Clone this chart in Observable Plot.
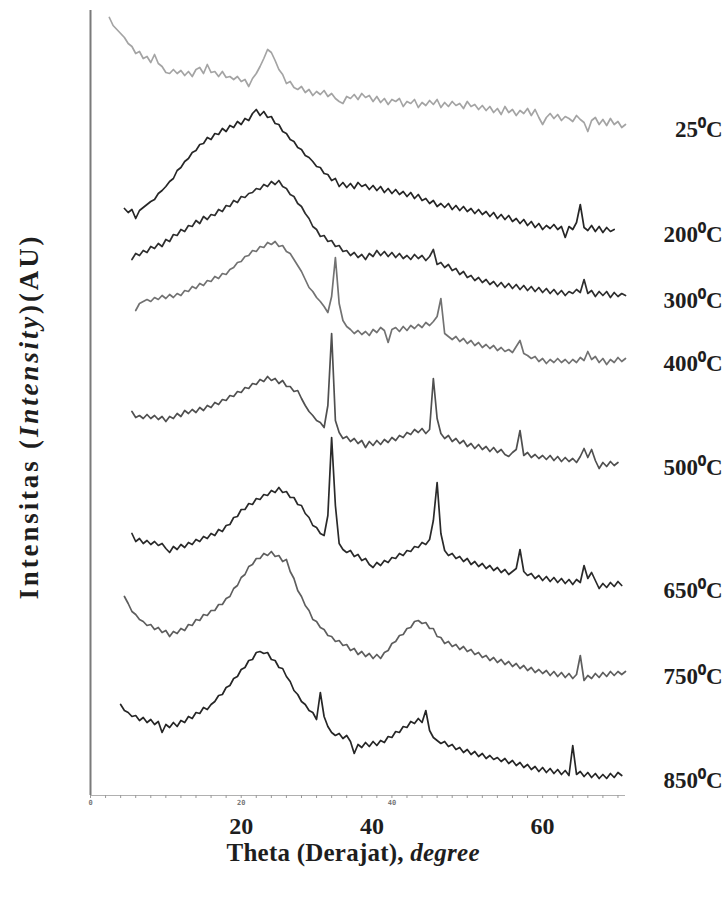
<!DOCTYPE html>
<html><head><meta charset="utf-8">
<script src="https://cdn.jsdelivr.net/npm/d3@7"></script>
<script src="https://cdn.jsdelivr.net/npm/@observablehq/plot@0.6"></script>
<style>body{margin:0;background:#fff;} #chart svg{display:block;}</style>
</head><body><div id="chart"></div>
<script>
// 2-theta grid (degree)
const theta = [
 2.5,3,3.5,4,4.5,5,5.5,6,6.5,7,
 7.5,8,8.5,9,9.5,10,10.5,11,11.5,12,
 12.5,13,13.5,14,14.5,15,15.5,16,16.5,17,
 17.5,18,18.5,19,19.5,20,20.5,21,21.5,22,
 22.5,23,23.5,24,24.5,25,25.5,26,26.5,27,
 27.5,28,28.5,29,29.5,30,30.5,31,31.5,32,
 32.5,33,33.5,34,34.5,35,35.5,36,36.5,37,
 37.5,38,38.5,39,39.5,40,40.5,41,41.5,42,
 42.5,43,43.5,44,44.5,45,45.5,46,46.5,47,
 47.5,48,48.5,49,49.5,50,50.5,51,51.5,52,
 52.5,53,53.5,54,54.5,55,55.5,56,56.5,57,
 57.5,58,58.5,59,59.5,60,60.5,61,61.5,62,
 62.5,63,63.5,64,64.5,65,65.5,66,66.5,67,
 67.5,68,68.5,69,69.5,70,70.5,71];

// stacked intensities (AU), aligned with theta
const i25 = [
 783,775,771,767,763,757,754,747,749,742,
 744,738,746,737,734,728,727,731,727,730,
 725,729,724,731,733,727,736,728,729,724,
 729,723,724,721,724,719,721,714,722,727,
 734,742,751,748,740,731,726,717,719,713,
 711,714,708,711,705,709,706,710,704,707,
 702,699,697,704,702,706,701,707,703,705,
 699,704,698,702,696,701,699,702,694,699,
 697,701,693,698,695,700,696,701,693,698,
 694,699,695,697,692,699,694,696,691,695,
 690,694,688,692,686,694,688,691,685,690,
 687,692,685,691,683,676,683,687,682,686,
 680,684,682,679,685,681,678,669,680,683,
 676,681,675,682,676,679,673,676];
const i200 = [
 null,null,null,null,592,588,591,582,590,593,
 596,599,601,607,610,614,619,622,630,633,
 639,642,648,650,656,657,663,661,667,666,
 672,669,675,673,679,676,682,680,687,691,
 685,689,683,684,677,676,669,667,661,659,
 653,651,645,643,639,634,633,627,626,620,
 622,614,618,613,617,612,618,614,616,611,
 615,610,614,608,612,607,611,606,609,604,
 608,602,606,600,602,597,600,594,597,593,
 597,591,595,590,594,589,592,587,591,586,
 589,584,588,582,586,581,585,579,582,577,
 581,575,579,573,577,571,575,572,576,571,
 574,563,574,571,578,596,573,570,575,569,
 574,568,573,569,571];
const i300 = [
 null,null,null,null,null,null,541,547,545,550,
 548,554,552,557,554,561,559,566,565,571,
 569,575,574,580,577,584,581,586,585,591,
 589,595,594,600,598,604,603,607,608,612,
 611,616,614,619,616,620,614,612,606,604,
 597,594,587,582,574,571,564,565,559,560,
 554,555,549,550,545,548,543,546,541,547,
 544,550,545,549,544,548,543,547,542,545,
 541,546,542,545,540,544,551,536,538,533,
 536,530,532,526,529,523,525,520,523,518,
 521,516,519,514,518,513,517,512,516,511,
 515,510,514,509,513,508,512,507,511,506,
 510,505,509,507,511,508,521,507,510,504,
 509,505,509,503,508,504,507,505];
const i400 = [
 null,null,null,null,null,null,null,490,497,499,
 501,499,503,501,505,502,506,503,507,505,
 510,509,514,512,517,515,520,519,524,522,
 527,526,531,533,538,539,544,545,550,549,
 554,553,558,556,559,554,555,549,547,541,
 535,529,521,513,509,503,499,494,488,504,
 543,497,480,474,471,467,470,466,469,465,
 471,468,473,470,458,471,473,469,474,470,
 475,472,476,473,478,475,479,484,502,467,
 464,461,464,459,462,457,460,455,458,453,
 456,452,455,450,453,449,451,448,454,460,
 447,445,442,444,439,442,437,441,438,442,
 438,441,437,441,438,443,440,449,441,444,
 438,442,436,441,438,443,439,442];
const i500 = [
 null,null,null,null,null,null,389,383,385,382,
 386,382,385,381,384,379,384,382,387,384,
 390,387,391,388,393,390,395,393,398,396,
 401,400,405,404,409,408,413,412,417,416,
 421,419,424,420,422,417,420,414,414,409,
 410,402,395,389,385,380,378,373,395,467,
 380,368,362,364,359,362,357,360,353,359,
 355,360,356,361,358,363,360,365,363,368,
 366,371,368,372,367,371,422,382,367,362,
 365,359,362,357,360,354,357,352,356,351,
 354,349,353,348,351,346,344,348,351,370,
 345,348,343,346,342,345,341,345,340,344,
 339,343,339,342,338,344,352,343,351,340,
 332,338,334,339,335,338];
const i650 = [
 null,null,null,null,null,null,267,259,262,257,
 260,256,259,255,257,252,248,254,251,256,
 253,258,256,261,259,264,262,267,265,271,
 269,275,276,283,284,291,291,297,296,302,
 301,306,305,310,308,313,308,309,303,303,
 296,295,287,283,275,273,267,265,285,363,
 295,257,251,248,250,244,246,240,242,236,
 233,238,235,240,238,243,242,247,245,250,
 249,254,253,258,256,261,280,318,267,250,
 245,247,242,244,239,242,236,239,234,237,
 232,235,230,233,228,231,226,229,232,251,
 229,225,227,222,225,220,224,219,223,218,
 222,217,221,216,221,218,235,222,228,220,
 212,217,213,218,214,219,215];
const i750 = [
 null,null,null,null,204,197,189,186,181,179,
 175,176,171,173,168,170,164,169,167,172,
 170,176,175,181,180,186,185,190,190,196,
 196,202,204,212,215,223,226,234,236,242,
 242,247,245,249,244,245,239,241,229,222,
 210,204,195,190,181,179,173,171,165,164,
 159,160,155,156,150,152,146,149,144,147,
 142,146,142,148,150,157,159,165,166,172,
 173,179,180,177,178,172,172,164,163,157,
 159,154,156,151,154,149,151,146,148,143,
 145,140,143,138,141,136,139,134,137,132,
 135,130,133,128,131,127,130,125,129,124,
 128,123,127,122,126,145,120,125,122,127,
 123,128,124,129,125,129,126,129];
const i850 = [
 null,null,null,96,90,88,84,85,80,83,
 78,81,76,79,68,76,73,78,74,80,
 78,84,82,88,87,93,91,96,99,105,
 106,113,115,122,124,131,133,140,141,148,
 149,147,148,141,140,133,132,124,119,110,
 106,99,96,90,88,81,108,84,74,68,
 65,67,62,65,59,47,56,53,58,54,
 59,55,60,58,64,63,69,68,74,73,
 79,77,82,78,90,70,63,60,57,59,
 54,56,51,53,48,51,46,49,44,47,
 42,45,41,43,39,42,37,40,35,38,
 33,36,31,34,29,33,28,32,27,31,
 26,30,25,55,26,29,24,28,23,27,
 22,26,22,27,23,28,25];

const temps = ["25","200","300","400","500","650","750","850"];
const intensities = [i25, i200, i300, i400, i500, i650, i750, i850];
const majorTicks = [20, 40, 60];
const minorTicks = [0,2,4,6,8,10,12,14,16,18,20,22,24,26,28,30,32,34,36,38,40,42,44,46,48,50,52,54,56,58,60,62,64,66,68,70];
const scaleTicks = [0, 20, 40];
const xDomain = [0, 71];
const yDomain = [5, 790];

const curveColors = ["#a4a4a4","#262626","#2e2e2e","#727272","#505050","#2a2a2a","#5e5e5e","#262626"];

const rows = [];
intensities.forEach((vals, k) => vals.forEach((v, i) => {
  if (v != null) rows.push({theta: theta[i], I: v, s: temps[k]});
}));
const ends = intensities.map((vals, k) => {
  let i = vals.length - 1;
  while (vals[i] == null) i--;
  return {theta: theta[i], I: vals[i], label: temps[k] + "\u2070C"};
});

const serif = "'Liberation Serif', 'Times New Roman', serif";

const chart = Plot.plot({
  width: 727,
  height: 897,
  marginLeft: 90,
  marginRight: 102,
  marginTop: 10,
  marginBottom: 102,
  style: {background: "#fff"},
  x: {domain: xDomain, range: [90, 625], label: null},
  y: {domain: yDomain, range: [795, 10], axis: null, label: null},
  color: {domain: temps, range: curveColors},
  marks: [
    Plot.ruleY([yDomain[0]], {stroke: "#b0b0b0", strokeWidth: 1}),
    Plot.axisX(minorTicks, {tickSize: 3, tickFormat: () => "", stroke: "#999", label: null}),
    Plot.axisX(scaleTicks, {tickSize: 0, tickPadding: 5, fontSize: 7, fill: "#777", fontFamily: "DejaVu Sans Mono, monospace", fontWeight: "bold", label: null}),
    Plot.axisX(majorTicks, {tickSize: 0, tickPadding: 21, fontSize: 24, fontWeight: "bold", fontFamily: serif, fill: "#1e1e1e", label: null}),
    Plot.ruleX([xDomain[0]], {stroke: "#7a7a7a", strokeWidth: 2}),
    Plot.line(rows, {x: "theta", y: "I", z: "s", stroke: "s", strokeWidth: 1.7, strokeLinejoin: "round"}),
    Plot.text(ends, {y: "I", frameAnchor: "right", text: "label", textAnchor: "end", dx: 97, dy: 5,
      fontSize: 23, fontWeight: "bold", fontFamily: serif, fill: "#1e1e1e", ariaLabel: "temp-label"})
  ]
});
document.getElementById("chart").appendChild(chart);

const svg = d3.select(chart);

// superscript degree in temperature labels
svg.selectAll('g[aria-label="temp-label"] text').each(function() {
  const t = this.textContent.split("\u2070");
  const el = d3.select(this).text(null);
  el.append("tspan").text(t[0]);
  el.append("tspan").attr("dy", "-0.35em").attr("font-size", 15).text("0");
  el.append("tspan").attr("dy", "0.35em").text(t[1]);
});

// hand-placed "40" label in the original sits left of its tick
svg.selectAll("text").filter(function() {
  const g = this.closest("g");
  return this.textContent === "40" && g && g.getAttribute("font-size") === "24";
}).attr("dx", -20);

// y title
const yt = svg.append("text")
  .attr("transform", "translate(38,418) rotate(-90)")
  .attr("text-anchor", "middle")
  .attr("font-family", serif).attr("font-weight", "bold").attr("font-size", 27)
  .attr("fill", "#1e1e1e")
  .attr("textLength", 363).attr("lengthAdjust", "spacing");
yt.append("tspan").text("Intensitas (");
yt.append("tspan").attr("font-style", "italic").text("Intensity");
yt.append("tspan").text(")(AU)");

// x title
const xt = svg.append("text")
  .attr("x", 353).attr("y", 861)
  .attr("text-anchor", "middle")
  .attr("font-family", serif).attr("font-weight", "bold").attr("font-size", 25)
  .attr("fill", "#1e1e1e")
  .attr("textLength", 253).attr("lengthAdjust", "spacing");
xt.append("tspan").text("Theta (Derajat), ");
xt.append("tspan").attr("font-style", "italic").text("degree");
</script></body></html>
